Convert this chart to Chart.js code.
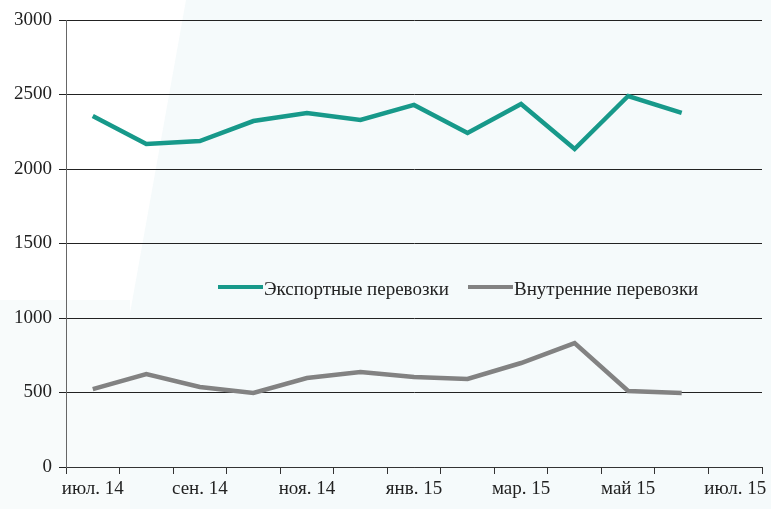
<!DOCTYPE html>
<html>
<head>
<meta charset="utf-8">
<script src="https://cdn.jsdelivr.net/npm/chart.js@4/dist/chart.umd.min.js"></script>
<style>
  html, body { margin: 0; padding: 0; background: #fff; }
  #wrap { width: 771px; height: 509px; }
</style>
</head>
<body>
<div id="wrap"><canvas id="chart" width="771" height="509"></canvas></div>
<script>
/* ---------- data ---------- */
const months = ["июл. 14", "авг. 14", "сен. 14", "окт. 14", "ноя. 14", "дек. 14",
                "янв. 15", "фев. 15", "мар. 15", "апр. 15", "май 15", "июн. 15", "июл. 15"];
const exportTraffic   = [2356, 2168, 2188, 2322, 2376, 2329, 2430, 2242, 2436, 2134, 2490, 2376];
const domesticTraffic = [523, 624, 537, 497, 597, 638, 604, 591, 698, 832, 510, 497];
const yTicks = [0, 500, 1000, 1500, 2000, 2500, 3000];

const TEAL = "#17998a";
const GREY = "#828282";
const FONT = "'Liberation Serif', 'Times New Roman', serif";

/* ---------- background shapes ---------- */
const bgPlugin = {
  id: "bg",
  beforeDraw(chart) {
    const c = chart.ctx;
    c.save();
    c.fillStyle = "#ffffff";
    c.fillRect(0, 0, chart.width, chart.height);
    c.fillStyle = "#f5fafb";
    c.beginPath();
    c.moveTo(186, 0);
    c.lineTo(chart.width, 0);
    c.lineTo(chart.width, chart.height);
    c.lineTo(95, chart.height);
    c.closePath();
    c.fill();
    c.fillStyle = "#f8fbfb";
    c.fillRect(0, 300, 130, chart.height - 300);
    c.restore();
  }
};

/* ---------- legend inside plot ---------- */
const legendPlugin = {
  id: "innerLegend",
  afterDraw(chart) {
    const c = chart.ctx;
    const items = [{ x: 218, ds: 0 }, { x: 468, ds: 1 }];
    c.save();
    c.font = "19px " + FONT;
    c.textBaseline = "middle";
    items.forEach(it => {
      const ds = chart.data.datasets[it.ds];
      c.strokeStyle = ds.borderColor;
      c.lineWidth = 4;
      c.beginPath();
      c.moveTo(it.x, 287);
      c.lineTo(it.x + 45, 287);
      c.stroke();
      c.fillStyle = "#222";
      c.fillText(ds.label, it.x + 46, 290);
    });
    c.restore();
  }
};

new Chart(document.getElementById("chart"), {
  type: "line",
  data: {
    labels: months,
    datasets: [
      { label: "Экспортные перевозки", data: exportTraffic, borderColor: TEAL,
        borderWidth: 4.5, pointRadius: 0, tension: 0, fill: false },
      { label: "Внутренние перевозки", data: domesticTraffic, borderColor: GREY,
        borderWidth: 4.5, pointRadius: 0, tension: 0, fill: false }
    ]
  },
  options: {
    responsive: false,
    animation: false,
    events: [],
    layout: { padding: { top: 20, right: 9, left: 0, bottom: 0 } },
    plugins: { legend: { display: false }, tooltip: { enabled: false } },
    scales: {
      x: {
        offset: true,
        border: { display: true, color: "#333", width: 1 },
        grid: { offset: true, drawOnChartArea: false, drawTicks: true,
                tickLength: 7, color: "#333" },
        ticks: {
          autoSkip: false, maxRotation: 0, padding: 4,
          color: "#222", font: { family: FONT, size: 19 },
          callback: (v, i) => (i % 2 === 0 ? months[i] : "")
        },
        afterFit(scale) { scale.height = 42; }
      },
      y: {
        min: 0, max: 3000,
        afterBuildTicks(scale) { scale.ticks = yTicks.map(v => ({ value: v })); },
        border: { display: true, color: "#666", width: 1 },
        grid: { color: "#222", lineWidth: 1, tickLength: 7 },
        ticks: { padding: 7, color: "#222", font: { family: FONT, size: 19 },
                 callback: v => String(v) },
        afterFit(scale) { scale.width = 66; }
      }
    }
  },
  plugins: [bgPlugin, legendPlugin]
});
</script>
</body>
</html>
